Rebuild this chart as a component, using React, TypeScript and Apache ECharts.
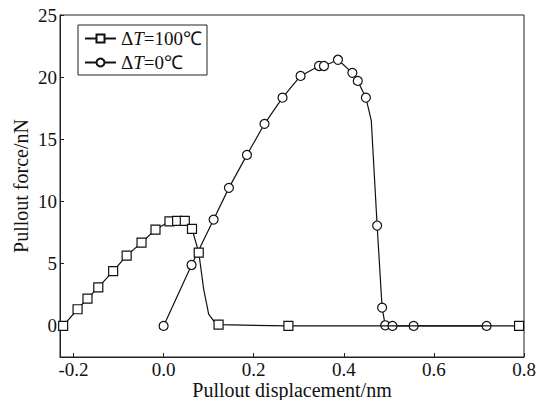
import React, { useEffect, useRef } from "react";
import * as echarts from "echarts";

// ΔT = 100℃ (squares); marked = 1 means a symbol is drawn at the point
const sqX = [-0.223, -0.191, -0.169, -0.145, -0.112, -0.082, -0.049, -0.018, 0.013, 0.03, 0.047, 0.063, 0.078, 0.089, 0.1, 0.111, 0.122, 0.277, 0.789];
const sqY = [0, 1.34, 2.2, 3.1, 4.4, 5.65, 6.7, 7.75, 8.4, 8.45, 8.45, 7.8, 5.9, 2.94, 0.94, 0.4, 0.1, 0, 0];
const sqMarked = [1, 1, 1, 1, 1, 1, 1, 1, 1, 1, 1, 1, 1, 0, 0, 0, 1, 1, 1];

// ΔT = 0℃ (circles)
const ciX = [0.0, 0.062, 0.111, 0.145, 0.185, 0.224, 0.264, 0.304, 0.345, 0.356, 0.387, 0.419, 0.431, 0.449, 0.461, 0.474, 0.485, 0.492, 0.508, 0.555, 0.717];
const ciY = [0, 4.9, 8.55, 11.1, 13.75, 16.25, 18.35, 20.1, 20.9, 20.9, 21.4, 20.35, 19.7, 18.35, 16.5, 8.07, 1.47, 0.05, 0, 0, 0];
const ciMarked = [1, 1, 1, 1, 1, 1, 1, 1, 1, 1, 1, 1, 1, 1, 0, 1, 1, 1, 1, 1, 1];

const seriesNames = ["ΔT=100℃", "ΔT=0℃"];
const xTickStep = 0.2;
const yTickStep = 5;

const FONT = "'Liberation Serif', 'Times New Roman', serif";

function build(xs: number[], ys: number[], marks: number[]) {
  return xs.map((x, i) =>
    marks[i] ? { value: [x, ys[i]] } : { value: [x, ys[i]], symbol: "none" }
  );
}

function isMultiple(v: number, step: number) {
  const r = v / step;
  return Math.abs(r - Math.round(r)) < 1e-6;
}

export default function App() {
  const ref = useRef<HTMLDivElement>(null);
  useEffect(() => {
    if (!ref.current) return;
    const chart = echarts.init(ref.current, undefined, { renderer: "svg" });
    const axisCommon = {
      axisLine: { show: true, onZero: false, lineStyle: { color: "#222", width: 1 } },
      axisTick: { show: true, inside: true, length: 4, lineStyle: { color: "#222" } },
      splitLine: { show: false },
      nameMoveOverlap: false,
      nameTextStyle: { fontFamily: FONT, fontSize: 20, color: "#111" },
    };
    chart.setOption({
      animation: false,
      backgroundColor: "#fff",
      grid: {
        left: 60,
        right: 16,
        top: 15,
        bottom: 43,
        outerBoundsMode: "none",
        containLabel: false,
        show: true,
        borderColor: "#222",
        borderWidth: 1,
      },
      legend: {
        orient: "vertical",
        left: 78,
        top: 25,
        itemWidth: 31,
        itemHeight: 10,
        itemGap: 5,
        padding: [4, 5, 3, 6],
        borderColor: "#222",
        borderWidth: 1,
        data: seriesNames,
        formatter: (name: string) => `{n|Δ}{i|T}{n|${name.slice(2)}}`,
        textStyle: {
          fontFamily: FONT,
          fontSize: 19,
          color: "#111",
          rich: {
            n: { fontFamily: FONT, fontSize: 19, color: "#111" },
            i: { fontFamily: FONT, fontSize: 19, color: "#111", fontStyle: "italic" },
          },
        },
      },
      xAxis: {
        type: "value",
        min: -0.23,
        max: 0.8,
        splitNumber: 5,
        name: "Pullout displacement/nm",
        nameLocation: "middle",
        nameGap: 23,
        ...axisCommon,
        axisLabel: {
          fontFamily: FONT,
          fontSize: 19,
          color: "#111",
          margin: 3,
          showMinLabel: true,
          showMaxLabel: true,
          formatter: (v: number) => (isMultiple(v, xTickStep) ? v.toFixed(1) : ""),
        },
      },
      yAxis: {
        type: "value",
        min: -2.5,
        max: 25,
        splitNumber: 5,
        name: "Pullout force/nN",
        nameLocation: "middle",
        nameGap: 29,
        ...axisCommon,
        axisLabel: {
          fontFamily: FONT,
          fontSize: 19,
          color: "#111",
          margin: 3,
          formatter: (v: number) => (isMultiple(v, yTickStep) ? String(Math.round(v)) : ""),
        },
      },
      series: [
        {
          name: seriesNames[0],
          type: "line",
          data: build(sqX, sqY, sqMarked),
          symbol: "rect",
          symbolSize: 9,
          showAllSymbol: true,
          lineStyle: { color: "#111", width: 1.2 },
          itemStyle: { color: "#fff", borderColor: "#111", borderWidth: 1.2 },
          z: 3,
        },
        {
          name: seriesNames[1],
          type: "line",
          data: build(ciX, ciY, ciMarked),
          symbol: "circle",
          symbolSize: 9,
          showAllSymbol: true,
          lineStyle: { color: "#111", width: 1.2 },
          itemStyle: { color: "#fff", borderColor: "#111", borderWidth: 1.2 },
          z: 2,
        },
      ],
    });
    return () => chart.dispose();
  }, []);
  return <div ref={ref} style={{ width: 540, height: 400, position: "absolute", left: 0, top: 0 }} />;
}
